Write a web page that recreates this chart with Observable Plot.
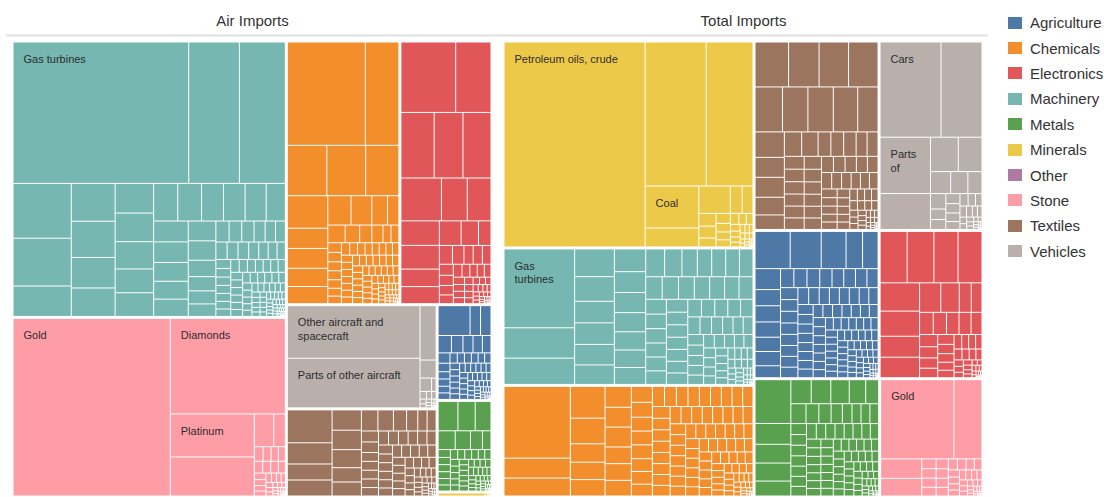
<!DOCTYPE html>
<html>
<head>
<meta charset="utf-8">
<script src="https://cdn.jsdelivr.net/npm/d3@7"></script>
<script src="https://cdn.jsdelivr.net/npm/@observablehq/plot@0.6"></script>
<style>
  html, body { margin: 0; padding: 0; background: #fff; }
  #wrap { position: relative; width: 1104px; height: 497px; font-family: "Liberation Sans", Arial, sans-serif; }
  #chart { position: absolute; left: 0; top: 0; }
  #legend { position: absolute; left: 1008px; top: 10px; }
  .item { display: flex; align-items: center; height: 25.4px; font-size: 15px; color: #333; white-space: nowrap; }
  .sw { width: 14px; height: 12px; margin-right: 8px; }
</style>
</head>
<body>
<div id="wrap"><div id="chart"></div><div id="legend"></div></div>
<script>
// ---------- categories and panels ----------
const categories = ["Agriculture", "Chemicals", "Electronics", "Machinery", "Metals", "Minerals", "Other", "Stone", "Textiles", "Vehicles"];
const panels = ["Air Imports", "Total Imports"];

// ---------- Air Imports: product values per category ----------
const airAgriculture = [966, 317, 317, 234, 203, 177, 165, 152, 124, 102, 87, 87, 80, 78, 76, 74, 72, 70, 68, 66, 64, 62, 60, 58, 56, 55, 53, 52, 50, 49, 48, 47, 46, 45, 44, 43, 42, 40, 40, 38, 38, 36, 36, 34, 32, 30, 28, 26, 24, 22, 20, 19, 18, 17, 16, 15, 14, 13, 12, 11, 10, 9, 8, 7, 6, 5, 4, 3, 2, 1];
const airChemicals = [7900, 3400, 1950, 1920, 1640, 1290, 800, 790, 720, 680, 670, 600, 450, 330, 300, 250, 210, 193, 138, 136, 130, 125, 121, 120, 114, 105, 101, 101, 96, 92, 88, 85, 82, 80, 79, 78, 78, 77, 76, 75, 74, 73, 72, 71, 70, 69, 68, 67, 66, 65, 64, 63, 62, 61, 60, 59, 58, 57, 56, 55, 54, 53, 52, 51, 50, 48, 46, 44, 42, 40, 38, 36, 34, 32, 30, 28, 27, 26, 25, 24, 23, 22, 21, 20, 19, 18, 17, 16, 15, 14, 13, 12, 11, 10, 9, 8, 7, 6, 5, 4, 3, 2, 1];
const airElectronics = [3800, 2450, 2150, 1860, 1810, 1710, 1090, 1000, 930, 900, 662, 645, 528, 420, 304, 242, 213, 172, 170, 160, 152, 140, 130, 120, 110, 100, 95, 90, 85, 80, 75, 70, 66, 62, 58, 54, 50, 46, 43, 40, 37, 34, 31, 28, 26, 24, 22, 20, 18, 16, 14, 12, 10, 9, 8, 7, 6, 5, 4, 3, 2, 1];
const airMachinery = [24100, 6950, 6300, 3100, 2700, 1720, 1610, 1540, 1300, 1210, 1110, 1070, 1020, 890, 885, 880, 870, 800, 790, 770, 700, 700, 690, 630, 600, 580, 530, 520, 440, 380, 350, 335, 270, 257, 251, 225, 212, 200, 190, 185, 180, 170, 160, 150, 140, 130, 125, 120, 115, 115, 110, 108, 105, 102, 100, 96, 94, 92, 90, 88, 88, 86, 84, 82, 80, 78, 77, 74, 74, 71, 68, 65, 62, 60, 58, 56, 54, 52, 50, 48, 46, 44, 42, 40, 38, 36, 35, 34, 33, 32, 30, 29, 28, 27, 26, 25, 24, 23, 22, 21, 20, 19, 18, 17, 16, 15, 14, 13, 12, 11, 10, 9, 8, 8, 7, 7, 6, 6, 5, 5, 4, 4, 3, 3, 2, 2, 2, 1, 1];
const airMetals = [590, 515, 471, 325, 290, 229, 162, 98, 90, 88, 85, 80, 76, 72, 70, 68, 66, 64, 62, 60, 58, 56, 55, 54, 52, 52, 50, 50, 48, 48, 46, 46, 44, 44, 42, 40, 38, 36, 34, 32, 30, 28, 26, 24, 22, 20, 18, 17, 16, 15, 14, 13, 12, 11, 10, 9, 8, 7, 6, 5, 4, 3, 2, 1];
const airMinerals = [230, 14, 8, 5, 3];
const airStone = [27200, 10700, 3520, 3198, 620, 370, 125, 114, 103, 100, 96, 92, 88, 80, 74, 68, 62, 56, 50, 46, 42, 38, 34, 30, 27, 24, 21, 18, 16, 14, 12, 10, 9, 8, 7, 6, 5, 4, 3, 3, 2, 2, 1, 1];
const airTextiles = [1460, 940, 710, 710, 590, 565, 525, 416, 407, 345, 325, 275, 234, 195, 189, 186, 178, 150, 150, 148, 145, 143, 140, 138, 135, 132, 130, 128, 125, 122, 120, 118, 115, 112, 110, 108, 106, 104, 102, 100, 98, 96, 95, 92, 90, 85, 80, 75, 70, 66, 62, 58, 54, 50, 47, 44, 41, 38, 35, 32, 30, 28, 26, 24, 22, 20, 18, 16, 14, 12, 10, 9, 8, 7, 6, 5, 4, 3, 2, 1];
const airVehicles = [6900, 6500, 865, 287, 152, 60, 48, 40, 34, 28, 24, 20, 16, 13, 10, 8, 6, 5, 4, 3, 2, 1];
const airOther = [];

// ---------- Total Imports: product values per category ----------
const totalAgriculture = [1292, 1140, 912, 608, 570, 528, 408, 408, 384, 360, 360, 300, 250, 246, 240, 230, 220, 220, 215, 210, 205, 200, 200, 195, 190, 186, 185, 180, 180, 175, 170, 166, 166, 165, 160, 155, 150, 145, 140, 140, 135, 135, 130, 130, 126, 125, 122, 120, 118, 115, 114, 110, 110, 106, 105, 102, 100, 98, 96, 95, 93, 92, 90, 89, 87, 86, 84, 83, 81, 80, 78, 77, 75, 74, 72, 71, 69, 68, 66, 65, 63, 62, 60, 59, 57, 56, 54, 53, 51, 50, 48, 47, 45, 44, 42, 41, 40, 38, 38, 36, 35, 34, 32, 30, 28, 26, 24, 22, 20, 18, 16, 14, 12, 10, 9, 8, 7, 6, 5, 4, 3, 2, 1];
const totalChemicals = [4680, 1300, 1170, 1085, 875, 630, 595, 560, 540, 513, 513, 432, 432, 405, 330, 308, 286, 286, 286, 264, 264, 245, 240, 235, 230, 226, 220, 215, 212, 210, 205, 205, 200, 200, 195, 195, 190, 190, 185, 185, 180, 180, 175, 175, 172, 170, 168, 165, 163, 160, 158, 155, 153, 150, 148, 145, 143, 140, 138, 135, 133, 132, 130, 128, 128, 125, 123, 122, 120, 118, 118, 115, 113, 112, 110, 108, 107, 104, 101, 98, 95, 92, 89, 86, 83, 80, 77, 74, 71, 68, 65, 62, 59, 56, 53, 50, 47, 44, 41, 38, 35, 32, 29, 26, 23, 20, 18, 16, 14, 12, 10, 8, 6, 5, 4, 3, 2, 1];
const totalElectronics = [1377, 1360, 1230, 1220, 1107, 984, 820, 800, 621, 540, 351, 315, 300, 290, 275, 265, 240, 220, 200, 185, 170, 160, 150, 140, 130, 120, 110, 100, 100, 92, 85, 78, 72, 66, 60, 55, 50, 45, 40, 36, 32, 28, 25, 22, 19, 16, 14, 12, 10, 8, 6, 5, 4, 3, 2, 1];
const totalMachinery = [5460, 2100, 1820, 1080, 960, 840, 840, 800, 760, 700, 640, 620, 590, 560, 540, 520, 515, 472, 419, 392, 382, 374, 370, 365, 360, 350, 340, 330, 320, 310, 300, 295, 290, 285, 280, 275, 270, 265, 260, 255, 250, 245, 240, 235, 230, 225, 220, 215, 210, 200, 190, 180, 175, 170, 165, 160, 155, 150, 145, 140, 135, 130, 125, 120, 115, 110, 105, 100, 96, 92, 88, 84, 80, 76, 72, 68, 64, 60, 56, 52, 48, 45, 42, 39, 36, 33, 30, 27, 24, 21, 18, 16, 14, 12, 10, 8, 7, 6, 5, 4, 3, 2, 1];
const totalMetals = [1554, 740, 666, 640, 530, 485, 467, 440, 392, 308, 298, 253, 241, 222, 190, 177, 175, 172, 170, 165, 165, 160, 158, 155, 150, 150, 145, 143, 140, 136, 135, 130, 128, 124, 122, 118, 116, 112, 110, 108, 106, 104, 102, 100, 98, 97, 95, 94, 92, 91, 89, 88, 86, 85, 83, 82, 80, 79, 77, 76, 74, 73, 71, 70, 68, 67, 65, 64, 62, 61, 59, 58, 56, 55, 52, 49, 46, 43, 40, 37, 34, 31, 28, 26, 24, 22, 20, 18, 16, 14, 12, 10, 8, 6, 5, 4, 3, 2, 1];
const totalMinerals = [28217, 8580, 6578, 2200, 990, 841, 319, 290, 215, 200, 150, 140, 120, 110, 100, 90, 80, 72, 64, 56, 50, 45, 40, 36, 32, 28, 25, 22, 19, 16, 14, 12, 10, 8, 6, 5, 4, 3, 2, 1];
const totalStone = [5767, 2212, 800, 720, 140, 135, 130, 125, 120, 115, 110, 105, 100, 95, 90, 85, 80, 75, 70, 66, 62, 58, 54, 50, 46, 42, 38, 34, 30, 27, 24, 21, 18, 16, 14, 12, 10, 8, 6, 5, 4, 3, 2, 1];
const totalTextiles = [1485, 1350, 1305, 1305, 1215, 1125, 1125, 1080, 900, 736, 576, 576, 512, 418, 416, 396, 308, 308, 300, 264, 264, 250, 245, 240, 235, 230, 225, 220, 215, 210, 205, 200, 195, 190, 185, 180, 175, 170, 165, 160, 155, 150, 145, 140, 135, 130, 125, 120, 115, 110, 105, 100, 96, 92, 88, 84, 80, 76, 72, 68, 64, 60, 56, 52, 48, 44, 40, 37, 34, 31, 28, 25, 22, 20, 18, 16, 14, 12, 10, 8, 6, 5, 4, 3, 2, 1];
const totalVehicles = [5734, 3854, 2805, 1785, 945, 805, 440, 374, 308, 234, 160, 150, 140, 130, 120, 110, 100, 90, 80, 72, 64, 56, 50, 44, 38, 33, 28, 24, 20, 17, 14, 12, 10, 8, 6, 5, 4, 3, 2, 1];
const totalOther = [];

// ---------- named products (category, index in its list, name) ----------
const airLabels = [
  ["Machinery", 0, "Gas turbines"],
  ["Stone", 0, "Gold"],
  ["Stone", 1, "Diamonds"],
  ["Stone", 2, "Platinum"],
  ["Vehicles", 0, "Other aircraft and spacecraft"],
  ["Vehicles", 1, "Parts of other aircraft"]
];
const totalLabels = [
  ["Minerals", 0, "Petroleum oils, crude"],
  ["Minerals", 3, "Coal"],
  ["Machinery", 0, "Gas turbines"],
  ["Vehicles", 0, "Cars"],
  ["Vehicles", 2, "Parts of"],
  ["Stone", 0, "Gold"]
];

// ---------- build tables ----------
const airSeries = {Agriculture: airAgriculture, Chemicals: airChemicals, Electronics: airElectronics, Machinery: airMachinery, Metals: airMetals, Minerals: airMinerals, Other: airOther, Stone: airStone, Textiles: airTextiles, Vehicles: airVehicles};
const totalSeries = {Agriculture: totalAgriculture, Chemicals: totalChemicals, Electronics: totalElectronics, Machinery: totalMachinery, Metals: totalMetals, Minerals: totalMinerals, Other: totalOther, Stone: totalStone, Textiles: totalTextiles, Vehicles: totalVehicles};

const W = 478, H = 454; // treemap layout units (one panel)

const ctx = document.createElement("canvas").getContext("2d");
ctx.font = "11px 'Liberation Sans', Arial, sans-serif";
function wrap(text, maxW) {
  const words = text.split(" ");
  const lines = [];
  let line = "";
  for (const w of words) {
    const t = line ? line + " " + w : w;
    if (!line || ctx.measureText(t).width <= maxW) line = t;
    else { lines.push(line); line = w; }
  }
  if (line) lines.push(line);
  return lines.join("\n");
}

function layout(panel, series, labels) {
  const data = {
    children: categories
      .filter(c => series[c].length)
      .map(c => ({
        category: c,
        children: series[c].map((v, i) => {
          const l = labels.find(d => d[0] === c && d[1] === i);
          return {category: c, value: v, name: l ? l[2] : null};
        })
      }))
  };
  const root = d3.hierarchy(data)
    .sum(d => d.value)
    .sort((a, b) => b.value - a.value);
  d3.treemap()
    .size([W, H])
    .tile(d3.treemapSquarify)
    .paddingInner(d => d.depth === 0 ? 2 : 0)(root);
  return root.leaves().map(n => ({
    panel,
    category: n.data.category,
    value: n.data.value,
    name: n.data.name,
    label: n.data.name ? wrap(n.data.name, n.x1 - n.x0 - 20) : null,
    x0: n.x0, x1: n.x1, y0: n.y0, y1: n.y1
  }));
}

const cells = [...layout(panels[0], airSeries, airLabels), ...layout(panels[1], totalSeries, totalLabels)];
const named = cells.filter(d => d.label);

const chart = Plot.plot({
  width: 995,
  height: 497,
  marginLeft: 13,
  marginRight: 13,
  marginTop: 42,
  marginBottom: 1,
  style: {fontFamily: "'Liberation Sans', Arial, sans-serif", background: "white"},
  x: {domain: [0, W], axis: null},
  y: {domain: [0, H], reverse: true, axis: null},
  fx: {domain: panels, paddingInner: 0.0265, paddingOuter: 0, axis: null},
  color: {domain: categories, range: d3.schemeTableau10},
  marks: [
    Plot.text(panels, {fx: d => d, text: d => d, frameAnchor: "top", lineAnchor: "middle", dy: -21, fontSize: 15, fill: "#333"}),
    Plot.ruleY([0], {dy: -7, insetLeft: -7, insetRight: -6, stroke: "#e0e0e0", strokeWidth: 2}),
    Plot.rect(cells, {fx: "panel", x1: "x0", x2: "x1", y1: "y0", y2: "y1", fill: "category", inset: 0.5}),
    Plot.text(named, {fx: "panel", x: "x0", y: "y0", text: "label", textAnchor: "start", lineAnchor: "top", dx: 10, dy: 10.5, fontSize: 11, lineHeight: 1.25, fill: "#2d2d2d"})
  ]
});
document.getElementById("chart").appendChild(chart);

// ---------- legend ----------
const legend = document.getElementById("legend");
categories.forEach((c, i) => {
  const item = document.createElement("div");
  item.className = "item";
  const sw = document.createElement("span");
  sw.className = "sw";
  sw.style.background = d3.schemeTableau10[i];
  const tx = document.createElement("span");
  tx.textContent = c;
  item.appendChild(sw);
  item.appendChild(tx);
  legend.appendChild(item);
});
</script>
</body>
</html>
